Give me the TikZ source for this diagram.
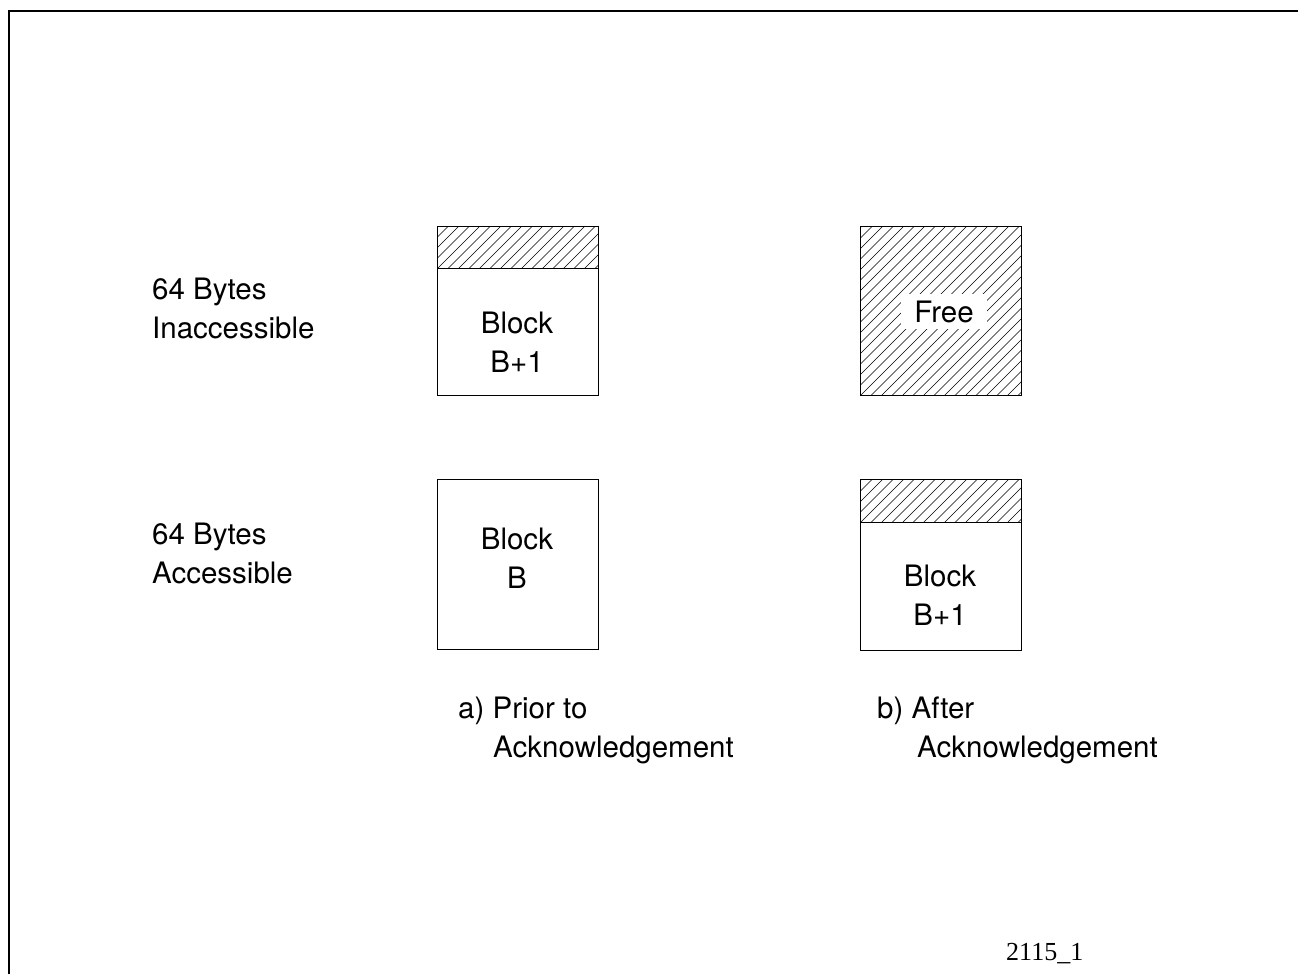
\documentclass[tikz,border=0pt]{standalone}
\usepackage{fontspec}
\setmainfont{TeX Gyre Heros}
\newfontfamily\figserif{Liberation Serif}
\newfontfamily\lblfont{TeX Gyre Heros}
\begin{document}
\begin{tikzpicture}[x=1pt,y=-1pt,
  blockbox/.style={draw, line width=1pt, inner sep=0pt, minimum width=161pt, anchor=north west},
  hatched/.style={path picture={\foreach \k in {-22,...,20}
      \draw[line width=0.55pt] ([xshift=\k*10.5pt]path picture bounding box.south west) -- ++(300,-300);}},
  txtfont/.style={font=\lblfont\fontsize{29.5}{38.5}\selectfont},
  lbl/.style={txtfont, inner sep=0pt, align=left, anchor=base west},
  blocktxt/.style={txtfont, inner sep=0pt, align=center, anchor=base},
  freelbl/.style={txtfont, fill=white, inner sep=0pt, minimum width=86pt, minimum height=35pt},
  border/.style={line width=2.5pt}
]
\useasboundingbox (0,0) rectangle (1298,974);
% frame (left and top only)
\draw[border] (9,974) -- (9,11) -- (1298,11);

% a) prior: top block B+1
\node[blockbox, minimum height=169pt] (atop) at (437,226) {};
\node[blockbox, hatched, minimum height=42pt] (atopstrip) at (atop.north west) {};
\node[blocktxt] (atoptxt) at (517,372) {Block\\B+1};

% a) prior: bottom block B
\node[blockbox, minimum height=170pt] (abot) at (437,479) {};
\node[blocktxt] (abottxt) at (517,588) {Block\\B};

% b) after: top free
\node[blockbox, hatched, minimum height=169pt] (btop) at (860,226) {};
\node[freelbl] (free) at (944,311.5) {Free};

% b) after: bottom block B+1
\node[blockbox, minimum height=171pt] (bbot) at (860,479) {};
\node[blockbox, hatched, minimum height=43pt] (bbotstrip) at (bbot.north west) {};
\node[blocktxt] (bbottxt) at (940,625) {Block\\B+1};

% side labels
\node[lbl] (inacc) at (152,338) {64 Bytes\\Inaccessible};
\node[lbl] (acc) at (152,583) {64 Bytes\\Accessible};

% captions
\node[lbl] (capa) at (458,757) {a) Prior to\\\hspace*{35pt}Acknowledgement};
\node[lbl] (capb) at (877,757) {b) After\\\hspace*{40pt}Acknowledgement};

% figure number
\node[font=\figserif\fontsize{26}{30}\selectfont, inner sep=0pt, anchor=base west] (fignum) at (1006,960) {2115\_1};
\end{tikzpicture}
\end{document}
